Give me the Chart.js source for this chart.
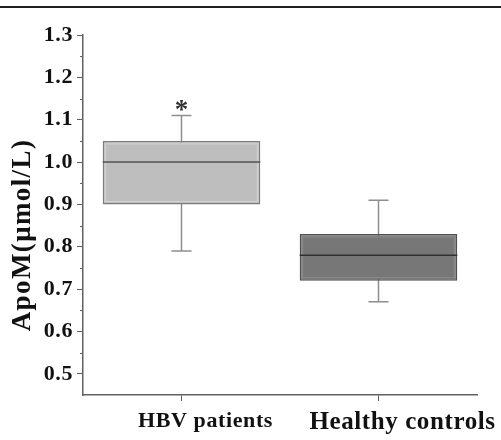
<!DOCTYPE html>
<html>
<head>
<meta charset="utf-8">
<script src="https://cdn.jsdelivr.net/npm/chart.js@4/dist/chart.umd.min.js"></script>
<style>
  html, body { margin: 0; padding: 0; background: #fff; }
  #wrap { position: relative; width: 501px; height: 440px; }
  #rule { position: absolute; left: 0; top: 6px; width: 501px; height: 2px; background: #1e1e1e; }
  canvas { position: absolute; left: 0; top: 0; }
</style>
</head>
<body>
<div id="wrap">
  <canvas id="c" width="501" height="440"></canvas>
  <div id="rule"></div>
</div>
<script>
// box plot values (μmol/L)
const categories = ['HBV patients', 'Healthy controls'];
const whiskerLow = [0.79, 0.67];
const q1 = [0.90, 0.72];
const median = [1.00, 0.78];
const q3 = [1.05, 0.83];
const whiskerHigh = [1.11, 0.91];
const marks = ['*', ''];
const yTicks = [0.5, 0.6, 0.7, 0.8, 0.9, 1.0, 1.1, 1.2, 1.3];
const yMinor = [0.55, 0.65, 0.75, 0.85, 0.95, 1.05, 1.15, 1.25];

const fills = ['#bebebe', '#777777'];
const edges = ['#7c7c7c', '#505050'];
const inner = ['#d2d2d2', '#8c8c8c'];
const medCol = ['#505050', '#303030'];
const SERIF = '"Liberation Serif", "Times New Roman", serif';

const boxPlot = {
  id: 'boxPlot',
  beforeDraw(chart) {
    // the original lettering is set a little wide
    chart.ctx.letterSpacing = '0.6px';
  },
  beforeDatasetsDraw(chart) {
    const { ctx, scales: { x, y } } = chart;
    ctx.save();
    ctx.strokeStyle = '#8e8e8e';
    ctx.lineWidth = 1.5;
    categories.forEach((c, i) => {
      const cx = x.getPixelForValue(i);
      ctx.beginPath();
      ctx.moveTo(cx, y.getPixelForValue(whiskerHigh[i]));
      ctx.lineTo(cx, y.getPixelForValue(whiskerLow[i]));
      [whiskerHigh[i], whiskerLow[i]].forEach(v => {
        ctx.moveTo(cx - 10, y.getPixelForValue(v));
        ctx.lineTo(cx + 10, y.getPixelForValue(v));
      });
      ctx.stroke();
    });
    ctx.restore();
  },
  afterDatasetsDraw(chart) {
    const { ctx, scales: { x, y } } = chart;
    const meta = chart.getDatasetMeta(0);
    ctx.save();
    meta.data.forEach((bar, i) => {
      const half = bar.width / 2;
      const top = y.getPixelForValue(q3[i]), bot = y.getPixelForValue(q1[i]);
      // light inner edge
      ctx.strokeStyle = inner[i];
      ctx.lineWidth = 1;
      ctx.strokeRect(bar.x - half + 3, top + 3, bar.width - 6, bot - top - 6);
      // median
      ctx.strokeStyle = medCol[i];
      ctx.lineWidth = 1.5;
      const my = y.getPixelForValue(median[i]);
      ctx.beginPath();
      ctx.moveTo(bar.x - half, my);
      ctx.lineTo(bar.x + half, my);
      ctx.stroke();
      if (marks[i]) {
        ctx.fillStyle = '#333';
        ctx.font = 'bold 27px ' + SERIF;
        ctx.letterSpacing = '0px';
        ctx.textAlign = 'center';
        ctx.textBaseline = 'middle';
        ctx.fillText(marks[i], bar.x, y.getPixelForValue(whiskerHigh[i]) - 4);
      }
    });
    // minor ticks on y axis
    ctx.strokeStyle = '#606060';
    ctx.lineWidth = 1;
    ctx.beginPath();
    yMinor.forEach(v => {
      const py = Math.round(y.getPixelForValue(v)) + 0.5;
      ctx.moveTo(chart.chartArea.left - 3, py);
      ctx.lineTo(chart.chartArea.left, py);
    });
    ctx.stroke();
    // y axis title
    ctx.fillStyle = '#111';
    ctx.font = 'bold 27px ' + SERIF;
    ctx.letterSpacing = '1.4px';
    ctx.textAlign = 'center';
    ctx.textBaseline = 'middle';
    ctx.translate(23, 235);
    ctx.rotate(-Math.PI / 2);
    ctx.fillText('ApoM(μmol/L)', 0, 0);
    ctx.restore();
  }
};

new Chart(document.getElementById('c'), {
  type: 'bar',
  data: {
    labels: categories,
    datasets: [{
      data: categories.map((c, i) => [q1[i], q3[i]]),
      backgroundColor: fills,
      borderColor: edges,
      borderWidth: 1.5,
      borderSkipped: false,
      categoryPercentage: 0.8,
      barPercentage: 1.0,
    }],
  },
  options: {
    responsive: false,
    animation: false,
    devicePixelRatio: 1,
    layout: { padding: { top: 35, right: 24, left: 0, bottom: 0 } },
    plugins: { legend: { display: false }, tooltip: { enabled: false } },
    scales: {
      x: {
        grid: { offset: false, drawOnChartArea: false, tickLength: 6, color: '#606060', tickWidth: 1 },
        border: { color: '#606060', width: 1.5 },
        ticks: {
          color: '#111', padding: 7, labelOffset: 24,
          font: ctx => ({ family: SERIF, weight: 'bold', size: ctx.index === 0 ? 22 : 25 }),
        },
        afterFit: s => { s.height = 45; },
      },
      y: {
        min: 0.45, max: 1.3,
        afterBuildTicks: s => { s.ticks = yTicks.map(v => ({ value: v })); },
        grid: { drawOnChartArea: false, tickLength: 6, color: '#606060', tickWidth: 1 },
        border: { color: '#606060', width: 1.5 },
        ticks: {
          color: '#111', padding: 4,
          font: { family: SERIF, weight: 'bold', size: 22 },
          callback: v => v.toFixed(1),
        },
        afterFit: s => { s.width = 83; },
      },
    },
  },
  plugins: [boxPlot],
});
</script>
</body>
</html>
